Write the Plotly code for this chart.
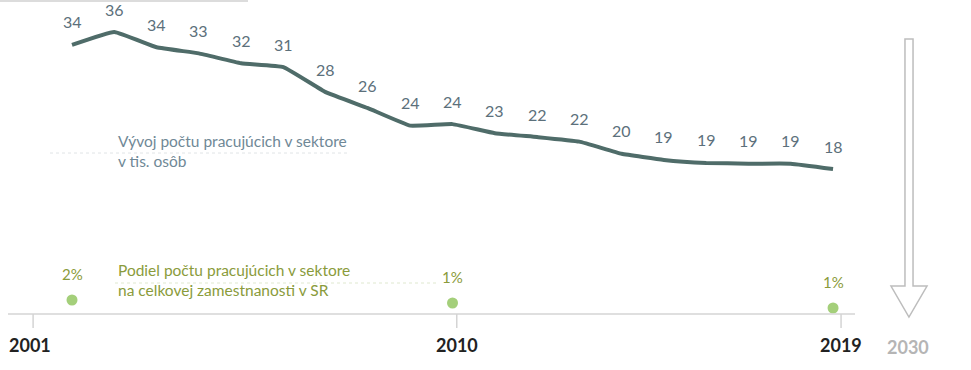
import plotly.graph_objects as go

years = list(range(2001, 2020))
workers = [34.3, 36.0, 34.0, 33.2, 31.9, 31.4, 28.1, 26.0, 23.7, 23.9,
           22.7, 22.2, 21.6, 20.0, 19.2, 18.8, 18.7, 18.7, 18.0]
worker_labels = ["34", "36", "34", "33", "32", "31", "28", "26", "24", "24",
                 "23", "22", "22", "20", "19", "19", "19", "19", "18"]
share_years = [2001, 2010, 2019]
share = [1.6, 1.3, 0.8]
share_labels = ["2%", "1%", "1%"]
tick_years = [2001, 2010, 2019]
tick_pos = [2000.08, 2010.1, 2019.19]
future_label = "2030"
title_workers = "Vývoj počtu pracujúcich v sektore<br>v tis. osôb"
title_share = "Podiel počtu pracujúcich v sektore<br>na celkovej zamestnanosti v SR"

W, H = 971, 370
FONT = "Lato"

fig = go.Figure()
fig.add_trace(go.Scatter(
    x=years, y=workers, mode="lines",
    line=dict(color="#4f6c69", width=4, shape="spline", smoothing=0.3),
    hoverinfo="skip", showlegend=False))
fig.add_trace(go.Scatter(
    x=share_years, y=share, mode="markers", yaxis="y2",
    marker=dict(color="#a4cf7a", size=11),
    hoverinfo="skip", showlegend=False))

ann = []
for x, y, t in zip(years, workers, worker_labels):
    ann.append(dict(x=x, y=y, text=t, xref="x", yref="y", showarrow=False,
                    yshift=23, font=dict(family=FONT, size=16, color="#5c707b")))
for x, y, t in zip(share_years, share, share_labels):
    ann.append(dict(x=x, y=y, text=t, xref="x", yref="y2", showarrow=False,
                    yshift=26, font=dict(family=FONT, size=15, color="#8a9b3b")))
for x, t in zip(tick_pos, tick_years):
    ann.append(dict(x=x, y=1 - 345 / H, text="<b>%d</b>" % t, xref="x", yref="paper",
                    xanchor="center", yanchor="middle", showarrow=False,
                    font=dict(family=FONT, size=18, color="#222222"),
                    xshift=-3 if t == 2001 else 0))
ann.append(dict(x=908 / W, y=1 - 347 / H, text="<b>%s</b>" % future_label,
                xref="paper", yref="paper", showarrow=False,
                xanchor="center", yanchor="middle",
                font=dict(family=FONT, size=18, color="#b5b5b5")))
ann.append(dict(x=116 / W, y=1 - 151 / H, text=title_workers, xref="paper", yref="paper",
                showarrow=False, xanchor="left", yanchor="middle", align="left",
                font=dict(family=FONT, size=15.5, color="#6f8896")))
ann.append(dict(x=116 / W, y=1 - 280 / H, text=title_share, xref="paper", yref="paper",
                showarrow=False, xanchor="left", yanchor="middle", align="left",
                font=dict(family=FONT, size=15.5, color="#8a9b3b")))

shapes = []
# axis line
shapes.append(dict(type="line", xref="paper", yref="paper", x0=8 / W, x1=855 / W,
                   y0=1 - 314 / H, y1=1 - 314 / H, line=dict(color="#d4d4d4", width=1.5)))
for x in tick_pos:
    shapes.append(dict(type="line", xref="x", yref="paper", x0=x, x1=x,
                       y0=1 - 314 / H, y1=1 - 328 / H, line=dict(color="#d4d4d4", width=1.5)))
# top faint line
shapes.append(dict(type="line", xref="paper", yref="paper", x0=0, x1=248 / W,
                   y0=1 - 1 / H, y1=1 - 1 / H, line=dict(color="#dcdcdc", width=2)))
# dotted leader lines
shapes.append(dict(type="line", xref="paper", yref="paper", x0=50 / W, x1=348 / W,
                   y0=1 - 153 / H, y1=1 - 153 / H,
                   line=dict(color="#e0e4e6", width=1, dash="dot")))
shapes.append(dict(type="line", xref="paper", yref="paper", x0=115 / W, x1=437 / W,
                   y0=1 - 283 / H, y1=1 - 283 / H,
                   line=dict(color="#dfe8cf", width=1, dash="dot")))
# hollow arrow
pts = [(905, 39), (913, 39), (913, 286), (927, 286), (909, 317), (891, 286), (905, 286)]
path = "M " + " L ".join("%.4f,%.4f" % (px / W, 1 - py / H) for px, py in pts) + " Z"
shapes.append(dict(type="path", xref="paper", yref="paper", path=path,
                   line=dict(color="#bdbdbd", width=1.5), fillcolor="white"))

px_per_year = 42.28
x0 = 2001 - 72 / px_per_year
x1 = x0 + W / px_per_year

fig.update_layout(
    width=W, height=H, margin=dict(l=0, r=0, t=0, b=0),
    paper_bgcolor="white", plot_bgcolor="white",
    xaxis=dict(range=[x0, x1], visible=False, fixedrange=True),
    yaxis=dict(range=[-8.41, 40.21], visible=False, fixedrange=True),
    yaxis2=dict(range=[-5.4, 31.6], visible=False, overlaying="y", fixedrange=True),
    annotations=ann, shapes=shapes, showlegend=False,
)
fig.write_html("out.html", config={"displayModeBar": False},
               post_script="document.body.style.margin='0px';document.body.style.overflow='hidden';")
